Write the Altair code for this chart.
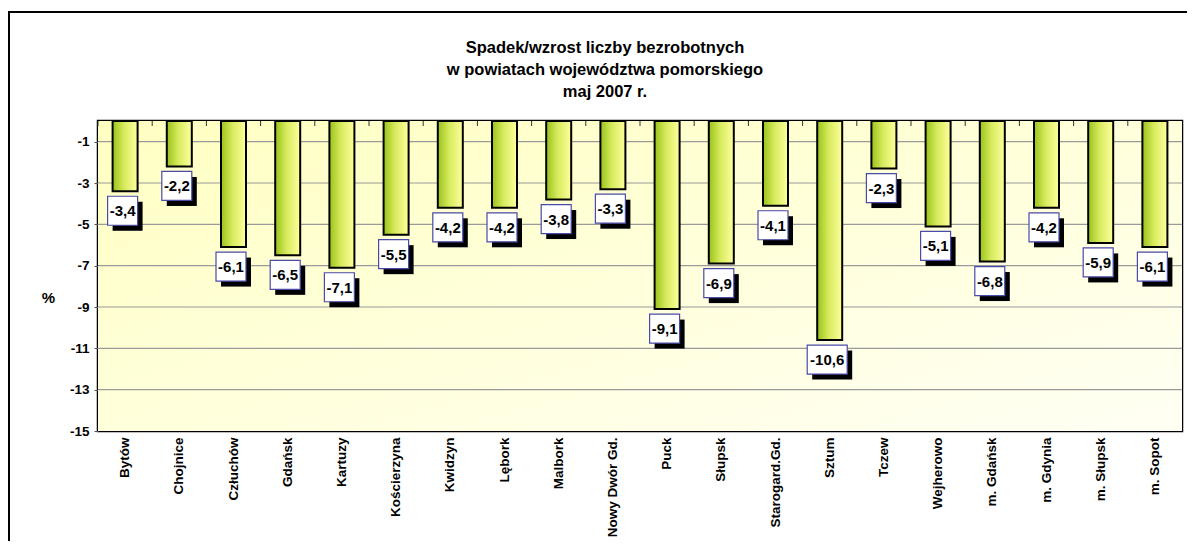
import altair as alt
import pandas as pd

categories = ["Bytów", "Chojnice", "Człuchów", "Gdańsk", "Kartuzy", "Kościerzyna",
              "Kwidzyn", "Lębork", "Malbork", "Nowy Dwór Gd.", "Puck", "Słupsk",
              "Starogard.Gd.", "Sztum", "Tczew", "Wejherowo", "m. Gdańsk",
              "m. Gdynia", "m. Słupsk", "m. Sopot"]
values = [-3.4, -2.2, -6.1, -6.5, -7.1, -5.5, -4.2, -4.2, -3.8, -3.3,
          -9.1, -6.9, -4.1, -10.6, -2.3, -5.1, -6.8, -4.2, -5.9, -6.1]
y_ticks = [-1, -3, -5, -7, -9, -11, -13, -15]
grid_values = [-1, -3, -5, -7, -9, -11, -13]
title_lines = ["Spadek/wzrost liczby bezrobotnych",
               "w powiatach województwa pomorskiego",
               "maj 2007 r."]

W, H = 1084, 310
FONT = "Liberation Sans"

labels = [f"{v:.1f}".replace(".", ",") for v in values]


def box_path(label):
    # label box: 29px tall, width depends on text length (symbol size 900 -> half side 15px)
    half_w = (30 if len(label) <= 4 else 40) / 2 / 15
    half_h = 14.5 / 15
    return f"M{-half_w:.3f},{-half_h:.3f}H{half_w:.3f}V{half_h:.3f}H{-half_w:.3f}Z"


df = pd.DataFrame({
    "cat": categories,
    "val": values,
    "label": labels,
    "box": [box_path(l) for l in labels],
})
grid_df = pd.DataFrame({"val": grid_values})
title_df = pd.DataFrame({"t": ["\n".join(title_lines)]})

x_scale = alt.Scale(domain=categories, paddingInner=0, paddingOuter=0)
y_scale = alt.Scale(domain=[-15, 0], nice=False, zero=False)

x_axis = alt.Axis(title=None, labelAngle=-90, ticks=False, domain=False,
                  labelPadding=6, labelFont=FONT, labelFontSize=13.5,
                  labelFontWeight="bold", labelColor="black", labelLimit=200)
y_axis = alt.Axis(title="%", values=y_ticks, grid=False, domain=False,
                  labelExpr="'' + datum.value",
                  tickSize=4, tickColor="#555555", labelPadding=5,
                  labelFont=FONT, labelFontSize=13.5, labelFontWeight="bold",
                  labelColor="black", titleAngle=0, titleFont=FONT,
                  titleFontSize=15, titleFontWeight="bold", titleColor="black",
                  titleX=-50, titleY=176, titleAlign="center",
                  titleBaseline="middle")

X = alt.X("cat:N", scale=x_scale, sort=categories, axis=x_axis)
Y = alt.Y("val:Q", scale=y_scale, axis=y_axis)
SHAPE = alt.Shape("box:N", scale=None, legend=None)

base = alt.Chart(df)

frame = alt.Chart(title_df).mark_rect(fill=None, stroke="black", strokeWidth=2).encode(
    x=alt.value(-89), x2=alt.value(W + 400),
    y=alt.value(-109), y2=alt.value(H + 400),
)

title = alt.Chart(title_df).mark_text(
    font=FONT, fontSize=16.5, fontWeight="bold", color="black",
    lineBreak="\n", lineHeight=22, align="center", baseline="middle"
).encode(text="t:N", x=alt.value(507), y=alt.value(-73))

bg = alt.Chart(title_df).mark_rect(
    color=alt.LinearGradient(
        gradient="linear", x1=0, y1=0, x2=1, y2=1,
        stops=[alt.GradientStop(color="#ffffc2", offset=0),
               alt.GradientStop(color="#fffff4", offset=1)])
).encode(x=alt.value(0), x2=alt.value(W), y=alt.value(0), y2=alt.value(H))

grid = alt.Chart(grid_df).mark_rule(color="#9a9a9a", strokeWidth=1.2).encode(y=Y)

top_ticks = base.mark_rule(color="#333333", strokeWidth=1).encode(
    x=alt.X("cat:N", scale=x_scale, sort=categories, axis=x_axis, bandPosition=0),
    y=alt.value(0), y2=alt.value(5),
)

bars = base.mark_bar(
    size=25, stroke="black", strokeWidth=2,
    color=alt.LinearGradient(
        gradient="linear", x1=0, y1=0, x2=1, y2=0,
        stops=[alt.GradientStop(color="#99c21a", offset=0),
               alt.GradientStop(color="#d6ea5c", offset=0.45),
               alt.GradientStop(color="#ffff9e", offset=1)])
).encode(x=X, y=Y, y2=alt.datum(0))

shadow = base.mark_point(filled=True, size=900, color="black", opacity=1,
                         xOffset=2.5, yOffset=25).encode(x=X, y=Y, shape=SHAPE)

box = base.mark_point(filled=True, size=900, fill="white",
                      stroke="#4a4aa8", strokeWidth=1.2, opacity=1,
                      xOffset=-2.5, yOffset=19.5).encode(x=X, y=Y, shape=SHAPE)

txt = base.mark_text(font=FONT, fontSize=15, fontWeight="bold", color="black",
                     baseline="middle", align="center", dx=-2.5, dy=20).encode(
    x=X, y=Y, text="label:N",
)

chart = alt.layer(frame, title, bg, grid, top_ticks, bars, shadow, box, txt).properties(
    width=W, height=H,
    background="white",
    autosize=alt.AutoSizeParams(type="none"),
    padding={"left": 90, "top": 113, "right": 5, "bottom": 110},
).configure_view(stroke="black", strokeWidth=2.5)

chart.save("out.html", embed_options={"renderer": "svg", "actions": False})
